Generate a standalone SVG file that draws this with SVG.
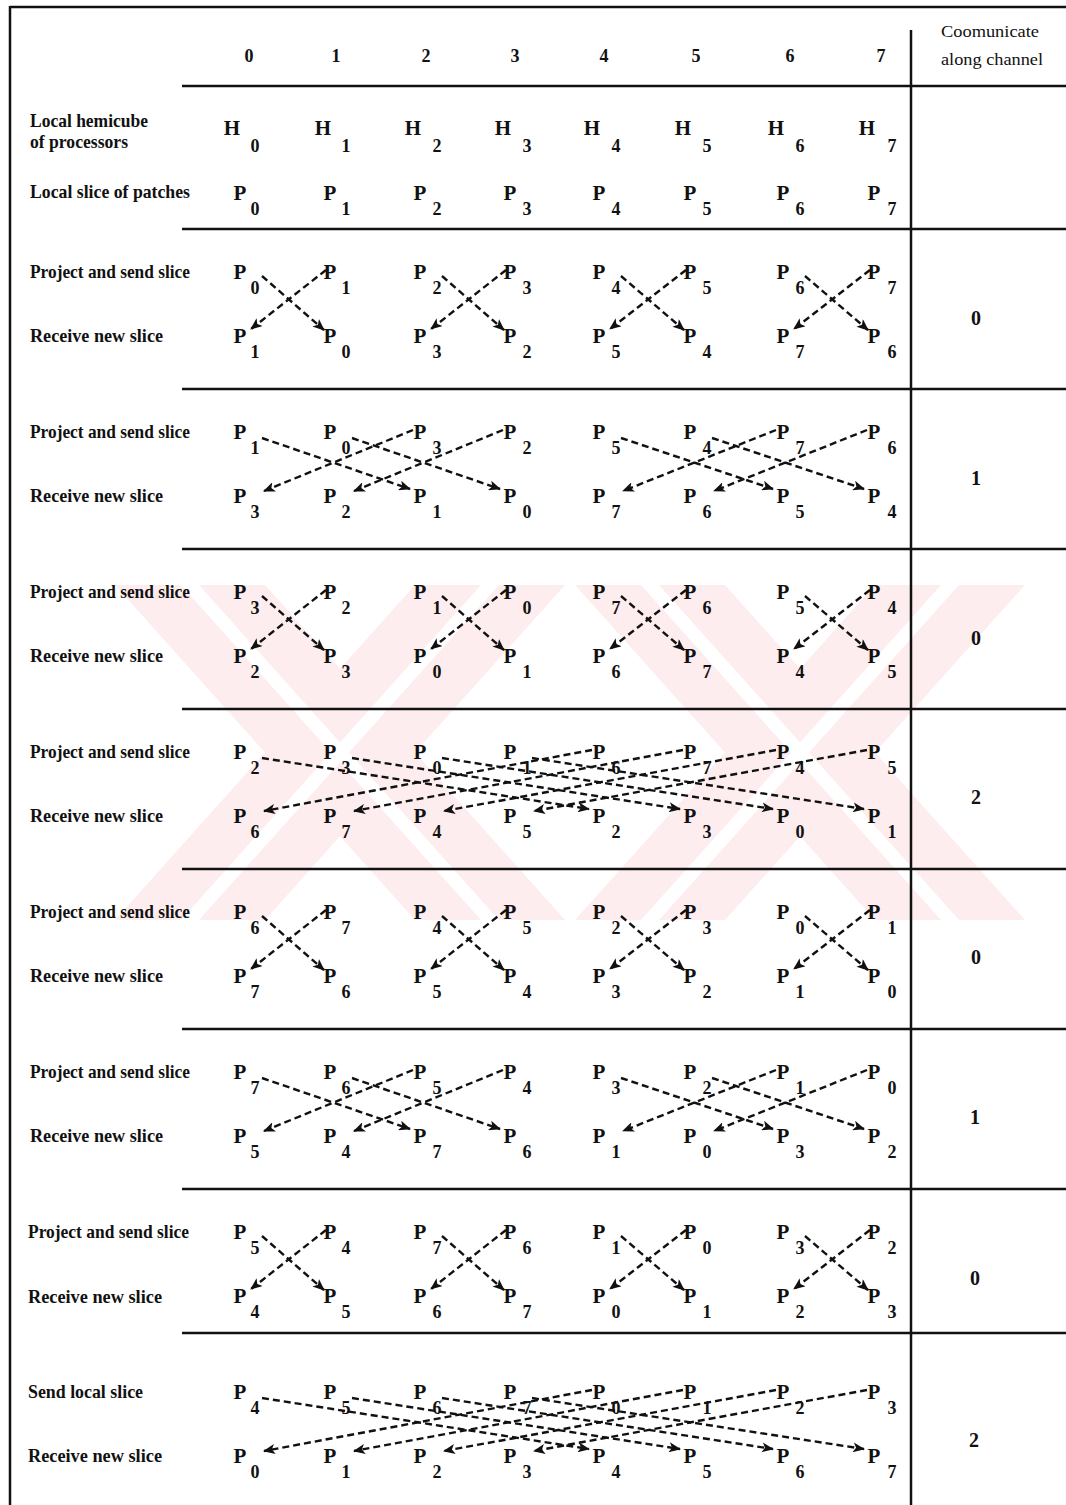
<svg xmlns="http://www.w3.org/2000/svg" width="1066" height="1505" viewBox="0 0 1066 1505">
<defs>
<marker id="ah" markerUnits="userSpaceOnUse" markerWidth="12" markerHeight="10" refX="11" refY="5" orient="auto"><path d="M0,0 L12,5 L0,10 L3,5 Z" fill="#111"/></marker>
<style>
text { font-family: "Liberation Serif","Times New Roman",serif; fill:#111; }
.lbl { font-size:19px; font-weight:bold; }
.hdr { font-size:16px; }
.num { font-size:18px; font-weight:bold; text-anchor:middle; }
.p { font-size:21px; font-weight:bold; text-anchor:middle; }
.s { font-size:18px; font-weight:bold; text-anchor:middle; }
.ch { font-size:20px; font-weight:bold; text-anchor:middle; }
.rule { stroke:#111; stroke-width:2.5; fill:none; }
.arr { stroke:#111; stroke-width:2.4; stroke-dasharray:7 4; fill:none; marker-end:url(#ah); }
.wm { fill:#feedef; }
.wmg { fill:#ffffff; }
</style>
</defs>
<rect width="1066" height="1505" fill="#ffffff"/>
<g id="watermark">
<polygon class="wm" points="115,585 265,585 565,920 415,920"/>
<polygon class="wm" points="415,585 565,585 265,920 115,920"/>
<polygon class="wm" points="575,585 725,585 1025,920 875,920"/>
<polygon class="wm" points="875,585 1025,585 725,920 575,920"/>
<polygon class="wmg" points="181,585 199,585 499,920 481,920"/>
<polygon class="wmg" points="481,585 499,585 199,920 181,920"/>
<polygon class="wmg" points="641,585 659,585 959,920 941,920"/>
<polygon class="wmg" points="941,585 959,585 659,920 641,920"/>
</g>
<g id="rules">
<line class="rule" x1="10" y1="7" x2="1066" y2="7" stroke-width="2"/>
<line class="rule" x1="10" y1="6" x2="10" y2="1505" stroke-width="2"/>
<line class="rule" x1="911" y1="30" x2="911" y2="1505" stroke-width="2"/>
<line class="rule" x1="182" y1="86" x2="1066" y2="86"/>
<line class="rule" x1="182" y1="229" x2="1066" y2="229"/>
<line class="rule" x1="182" y1="389" x2="1066" y2="389"/>
<line class="rule" x1="182" y1="549" x2="1066" y2="549"/>
<line class="rule" x1="182" y1="709" x2="1066" y2="709"/>
<line class="rule" x1="182" y1="869" x2="1066" y2="869"/>
<line class="rule" x1="182" y1="1029" x2="1066" y2="1029"/>
<line class="rule" x1="182" y1="1189" x2="1066" y2="1189"/>
<line class="rule" x1="182" y1="1333" x2="1066" y2="1333"/>
</g>
<g id="labels">
<text class="hdr" x="990" y="37" text-anchor="middle" textLength="98" lengthAdjust="spacingAndGlyphs">Coomunicate</text>
<text class="hdr" x="992" y="65" text-anchor="middle" textLength="102" lengthAdjust="spacingAndGlyphs">along channel</text>
<text class="lbl" x="30" y="127" textLength="118" lengthAdjust="spacingAndGlyphs">Local hemicube</text>
<text class="lbl" x="30" y="148" textLength="98" lengthAdjust="spacingAndGlyphs">of processors</text>
<text class="lbl" x="30" y="198" textLength="160" lengthAdjust="spacingAndGlyphs">Local slice of patches</text>
<text class="lbl" x="30" y="278" textLength="160" lengthAdjust="spacingAndGlyphs">Project and send slice</text>
<text class="lbl" x="30" y="342" textLength="133" lengthAdjust="spacingAndGlyphs">Receive new slice</text>
<text class="lbl" x="30" y="438" textLength="160" lengthAdjust="spacingAndGlyphs">Project and send slice</text>
<text class="lbl" x="30" y="502" textLength="133" lengthAdjust="spacingAndGlyphs">Receive new slice</text>
<text class="lbl" x="30" y="598" textLength="160" lengthAdjust="spacingAndGlyphs">Project and send slice</text>
<text class="lbl" x="30" y="662" textLength="133" lengthAdjust="spacingAndGlyphs">Receive new slice</text>
<text class="lbl" x="30" y="758" textLength="160" lengthAdjust="spacingAndGlyphs">Project and send slice</text>
<text class="lbl" x="30" y="822" textLength="133" lengthAdjust="spacingAndGlyphs">Receive new slice</text>
<text class="lbl" x="30" y="918" textLength="160" lengthAdjust="spacingAndGlyphs">Project and send slice</text>
<text class="lbl" x="30" y="982" textLength="133" lengthAdjust="spacingAndGlyphs">Receive new slice</text>
<text class="lbl" x="30" y="1078" textLength="160" lengthAdjust="spacingAndGlyphs">Project and send slice</text>
<text class="lbl" x="30" y="1142" textLength="133" lengthAdjust="spacingAndGlyphs">Receive new slice</text>
<text class="lbl" x="28" y="1238" textLength="161" lengthAdjust="spacingAndGlyphs">Project and send slice</text>
<text class="lbl" x="28" y="1303" textLength="134" lengthAdjust="spacingAndGlyphs">Receive new slice</text>
<text class="lbl" x="28" y="1398" textLength="115" lengthAdjust="spacingAndGlyphs">Send local slice</text>
<text class="lbl" x="28" y="1462" textLength="134" lengthAdjust="spacingAndGlyphs">Receive new slice</text>
</g>
<g id="channels">
<text class="ch" x="976" y="325">0</text>
<text class="ch" x="976" y="485">1</text>
<text class="ch" x="976" y="645">0</text>
<text class="ch" x="976" y="804">2</text>
<text class="ch" x="976" y="964">0</text>
<text class="ch" x="975" y="1124">1</text>
<text class="ch" x="975" y="1285">0</text>
<text class="ch" x="974" y="1447">2</text>
</g>
<g id="column-headers">
<text class="num" x="249" y="62">0</text>
<text class="num" x="336" y="62">1</text>
<text class="num" x="426" y="62">2</text>
<text class="num" x="515" y="62">3</text>
<text class="num" x="604" y="62">4</text>
<text class="num" x="696" y="62">5</text>
<text class="num" x="790" y="62">6</text>
<text class="num" x="881" y="62">7</text>
</g>
<g id="connectors">
<g id="c1" transform="translate(0,272)">
<line class="arr" x1="262" y1="4" x2="324" y2="58"/><line class="arr" x1="326" y1="-2" x2="251" y2="57"/>
<line class="arr" x1="442" y1="4" x2="504" y2="58"/><line class="arr" x1="506" y1="-2" x2="431" y2="57"/>
<line class="arr" x1="621" y1="4" x2="684" y2="58"/><line class="arr" x1="686" y1="-2" x2="610" y2="57"/>
<line class="arr" x1="805" y1="4" x2="868" y2="58"/><line class="arr" x1="870" y1="-2" x2="794" y2="57"/>
</g>
<g id="c2" transform="translate(0,432)">
<line class="arr" x1="262" y1="6" x2="410" y2="57"/><line class="arr" x1="413" y1="-2" x2="264" y2="59"/>
<line class="arr" x1="352" y1="6" x2="500" y2="57"/><line class="arr" x1="503" y1="-2" x2="354" y2="59"/>
<line class="arr" x1="621" y1="6" x2="773" y2="57"/><line class="arr" x1="776" y1="-2" x2="623" y2="59"/>
<line class="arr" x1="712" y1="6" x2="864" y2="57"/><line class="arr" x1="867" y1="-2" x2="714" y2="59"/>
</g>
<g id="c3" transform="translate(0,592)">
<line class="arr" x1="262" y1="4" x2="324" y2="58"/><line class="arr" x1="326" y1="-2" x2="251" y2="57"/>
<line class="arr" x1="442" y1="4" x2="504" y2="58"/><line class="arr" x1="506" y1="-2" x2="431" y2="57"/>
<line class="arr" x1="621" y1="4" x2="684" y2="58"/><line class="arr" x1="686" y1="-2" x2="610" y2="57"/>
<line class="arr" x1="805" y1="4" x2="868" y2="58"/><line class="arr" x1="870" y1="-2" x2="794" y2="57"/>
</g>
<g id="c4" transform="translate(0,752)">
<line class="arr" x1="262" y1="6" x2="589" y2="57"/><line class="arr" x1="592" y1="-2" x2="264" y2="59"/>
<line class="arr" x1="352" y1="6" x2="680" y2="57"/><line class="arr" x1="683" y1="-2" x2="354" y2="59"/>
<line class="arr" x1="442" y1="6" x2="773" y2="57"/><line class="arr" x1="776" y1="-2" x2="444" y2="59"/>
<line class="arr" x1="532" y1="6" x2="864" y2="57"/><line class="arr" x1="867" y1="-2" x2="534" y2="59"/>
</g>
<g id="c5" transform="translate(0,912)">
<line class="arr" x1="262" y1="4" x2="324" y2="58"/><line class="arr" x1="326" y1="-2" x2="251" y2="57"/>
<line class="arr" x1="442" y1="4" x2="504" y2="58"/><line class="arr" x1="506" y1="-2" x2="431" y2="57"/>
<line class="arr" x1="621" y1="4" x2="684" y2="58"/><line class="arr" x1="686" y1="-2" x2="610" y2="57"/>
<line class="arr" x1="805" y1="4" x2="868" y2="58"/><line class="arr" x1="870" y1="-2" x2="794" y2="57"/>
</g>
<g id="c6" transform="translate(0,1072)">
<line class="arr" x1="262" y1="6" x2="410" y2="57"/><line class="arr" x1="413" y1="-2" x2="264" y2="59"/>
<line class="arr" x1="352" y1="6" x2="500" y2="57"/><line class="arr" x1="503" y1="-2" x2="354" y2="59"/>
<line class="arr" x1="621" y1="6" x2="773" y2="57"/><line class="arr" x1="776" y1="-2" x2="623" y2="59"/>
<line class="arr" x1="712" y1="6" x2="864" y2="57"/><line class="arr" x1="867" y1="-2" x2="714" y2="59"/>
</g>
<g id="c7" transform="translate(0,1232)">
<line class="arr" x1="262" y1="4" x2="324" y2="58"/><line class="arr" x1="326" y1="-2" x2="251" y2="57"/>
<line class="arr" x1="442" y1="4" x2="504" y2="58"/><line class="arr" x1="506" y1="-2" x2="431" y2="57"/>
<line class="arr" x1="621" y1="4" x2="684" y2="58"/><line class="arr" x1="686" y1="-2" x2="610" y2="57"/>
<line class="arr" x1="805" y1="4" x2="868" y2="58"/><line class="arr" x1="870" y1="-2" x2="794" y2="57"/>
</g>
<g id="c8" transform="translate(0,1392)">
<line class="arr" x1="262" y1="6" x2="589" y2="57"/><line class="arr" x1="592" y1="-2" x2="264" y2="59"/>
<line class="arr" x1="352" y1="6" x2="680" y2="57"/><line class="arr" x1="683" y1="-2" x2="354" y2="59"/>
<line class="arr" x1="442" y1="6" x2="773" y2="57"/><line class="arr" x1="776" y1="-2" x2="444" y2="59"/>
<line class="arr" x1="532" y1="6" x2="864" y2="57"/><line class="arr" x1="867" y1="-2" x2="534" y2="59"/>
</g>
</g>
<g id="hemicubes">
<g id="h0"><text class="p" x="232" y="135">H</text><text class="s" x="255" y="152">0</text></g>
<g id="h1"><text class="p" x="323" y="135">H</text><text class="s" x="346" y="152">1</text></g>
<g id="h2"><text class="p" x="413" y="135">H</text><text class="s" x="437" y="152">2</text></g>
<g id="h3"><text class="p" x="503" y="135">H</text><text class="s" x="527" y="152">3</text></g>
<g id="h4"><text class="p" x="592" y="135">H</text><text class="s" x="616" y="152">4</text></g>
<g id="h5"><text class="p" x="683" y="135">H</text><text class="s" x="707" y="152">5</text></g>
<g id="h6"><text class="p" x="776" y="135">H</text><text class="s" x="800" y="152">6</text></g>
<g id="h7"><text class="p" x="867" y="135">H</text><text class="s" x="892" y="152">7</text></g>
</g>
<g id="local-slices">
<g id="l0"><text class="p" x="240" y="200">P</text><text class="s" x="255" y="215">0</text></g>
<g id="l1"><text class="p" x="330" y="200">P</text><text class="s" x="346" y="215">1</text></g>
<g id="l2"><text class="p" x="420" y="200">P</text><text class="s" x="437" y="215">2</text></g>
<g id="l3"><text class="p" x="510" y="200">P</text><text class="s" x="527" y="215">3</text></g>
<g id="l4"><text class="p" x="599" y="200">P</text><text class="s" x="616" y="215">4</text></g>
<g id="l5"><text class="p" x="690" y="200">P</text><text class="s" x="707" y="215">5</text></g>
<g id="l6"><text class="p" x="783" y="200">P</text><text class="s" x="800" y="215">6</text></g>
<g id="l7"><text class="p" x="874" y="200">P</text><text class="s" x="892" y="215">7</text></g>
</g>
<g id="step1" transform="translate(0,272)">
<g id="s1t0"><text class="p" x="240" y="7">P</text><text class="s" x="255" y="22">0</text></g>
<g id="s1t1"><text class="p" x="330" y="7">P</text><text class="s" x="346" y="22">1</text></g>
<g id="s1t2"><text class="p" x="420" y="7">P</text><text class="s" x="437" y="22">2</text></g>
<g id="s1t3"><text class="p" x="510" y="7">P</text><text class="s" x="527" y="22">3</text></g>
<g id="s1t4"><text class="p" x="599" y="7">P</text><text class="s" x="616" y="22">4</text></g>
<g id="s1t5"><text class="p" x="690" y="7">P</text><text class="s" x="707" y="22">5</text></g>
<g id="s1t6"><text class="p" x="783" y="7">P</text><text class="s" x="800" y="22">6</text></g>
<g id="s1t7"><text class="p" x="874" y="7">P</text><text class="s" x="892" y="22">7</text></g>
<g id="s1b0"><text class="p" x="240" y="71">P</text><text class="s" x="255" y="86">1</text></g>
<g id="s1b1"><text class="p" x="330" y="71">P</text><text class="s" x="346" y="86">0</text></g>
<g id="s1b2"><text class="p" x="420" y="71">P</text><text class="s" x="437" y="86">3</text></g>
<g id="s1b3"><text class="p" x="510" y="71">P</text><text class="s" x="527" y="86">2</text></g>
<g id="s1b4"><text class="p" x="599" y="71">P</text><text class="s" x="616" y="86">5</text></g>
<g id="s1b5"><text class="p" x="690" y="71">P</text><text class="s" x="707" y="86">4</text></g>
<g id="s1b6"><text class="p" x="783" y="71">P</text><text class="s" x="800" y="86">7</text></g>
<g id="s1b7"><text class="p" x="874" y="71">P</text><text class="s" x="892" y="86">6</text></g>
</g>
<g id="step2" transform="translate(0,432)">
<g id="s2t0"><text class="p" x="240" y="7">P</text><text class="s" x="255" y="22">1</text></g>
<g id="s2t1"><text class="p" x="330" y="7">P</text><text class="s" x="346" y="22">0</text></g>
<g id="s2t2"><text class="p" x="420" y="7">P</text><text class="s" x="437" y="22">3</text></g>
<g id="s2t3"><text class="p" x="510" y="7">P</text><text class="s" x="527" y="22">2</text></g>
<g id="s2t4"><text class="p" x="599" y="7">P</text><text class="s" x="616" y="22">5</text></g>
<g id="s2t5"><text class="p" x="690" y="7">P</text><text class="s" x="707" y="22">4</text></g>
<g id="s2t6"><text class="p" x="783" y="7">P</text><text class="s" x="800" y="22">7</text></g>
<g id="s2t7"><text class="p" x="874" y="7">P</text><text class="s" x="892" y="22">6</text></g>
<g id="s2b0"><text class="p" x="240" y="71">P</text><text class="s" x="255" y="86">3</text></g>
<g id="s2b1"><text class="p" x="330" y="71">P</text><text class="s" x="346" y="86">2</text></g>
<g id="s2b2"><text class="p" x="420" y="71">P</text><text class="s" x="437" y="86">1</text></g>
<g id="s2b3"><text class="p" x="510" y="71">P</text><text class="s" x="527" y="86">0</text></g>
<g id="s2b4"><text class="p" x="599" y="71">P</text><text class="s" x="616" y="86">7</text></g>
<g id="s2b5"><text class="p" x="690" y="71">P</text><text class="s" x="707" y="86">6</text></g>
<g id="s2b6"><text class="p" x="783" y="71">P</text><text class="s" x="800" y="86">5</text></g>
<g id="s2b7"><text class="p" x="874" y="71">P</text><text class="s" x="892" y="86">4</text></g>
</g>
<g id="step3" transform="translate(0,592)">
<g id="s3t0"><text class="p" x="240" y="7">P</text><text class="s" x="255" y="22">3</text></g>
<g id="s3t1"><text class="p" x="330" y="7">P</text><text class="s" x="346" y="22">2</text></g>
<g id="s3t2"><text class="p" x="420" y="7">P</text><text class="s" x="437" y="22">1</text></g>
<g id="s3t3"><text class="p" x="510" y="7">P</text><text class="s" x="527" y="22">0</text></g>
<g id="s3t4"><text class="p" x="599" y="7">P</text><text class="s" x="616" y="22">7</text></g>
<g id="s3t5"><text class="p" x="690" y="7">P</text><text class="s" x="707" y="22">6</text></g>
<g id="s3t6"><text class="p" x="783" y="7">P</text><text class="s" x="800" y="22">5</text></g>
<g id="s3t7"><text class="p" x="874" y="7">P</text><text class="s" x="892" y="22">4</text></g>
<g id="s3b0"><text class="p" x="240" y="71">P</text><text class="s" x="255" y="86">2</text></g>
<g id="s3b1"><text class="p" x="330" y="71">P</text><text class="s" x="346" y="86">3</text></g>
<g id="s3b2"><text class="p" x="420" y="71">P</text><text class="s" x="437" y="86">0</text></g>
<g id="s3b3"><text class="p" x="510" y="71">P</text><text class="s" x="527" y="86">1</text></g>
<g id="s3b4"><text class="p" x="599" y="71">P</text><text class="s" x="616" y="86">6</text></g>
<g id="s3b5"><text class="p" x="690" y="71">P</text><text class="s" x="707" y="86">7</text></g>
<g id="s3b6"><text class="p" x="783" y="71">P</text><text class="s" x="800" y="86">4</text></g>
<g id="s3b7"><text class="p" x="874" y="71">P</text><text class="s" x="892" y="86">5</text></g>
</g>
<g id="step4" transform="translate(0,752)">
<g id="s4t0"><text class="p" x="240" y="7">P</text><text class="s" x="255" y="22">2</text></g>
<g id="s4t1"><text class="p" x="330" y="7">P</text><text class="s" x="346" y="22">3</text></g>
<g id="s4t2"><text class="p" x="420" y="7">P</text><text class="s" x="437" y="22">0</text></g>
<g id="s4t3"><text class="p" x="510" y="7">P</text><text class="s" x="527" y="22">1</text></g>
<g id="s4t4"><text class="p" x="599" y="7">P</text><text class="s" x="616" y="22">6</text></g>
<g id="s4t5"><text class="p" x="690" y="7">P</text><text class="s" x="707" y="22">7</text></g>
<g id="s4t6"><text class="p" x="783" y="7">P</text><text class="s" x="800" y="22">4</text></g>
<g id="s4t7"><text class="p" x="874" y="7">P</text><text class="s" x="892" y="22">5</text></g>
<g id="s4b0"><text class="p" x="240" y="71">P</text><text class="s" x="255" y="86">6</text></g>
<g id="s4b1"><text class="p" x="330" y="71">P</text><text class="s" x="346" y="86">7</text></g>
<g id="s4b2"><text class="p" x="420" y="71">P</text><text class="s" x="437" y="86">4</text></g>
<g id="s4b3"><text class="p" x="510" y="71">P</text><text class="s" x="527" y="86">5</text></g>
<g id="s4b4"><text class="p" x="599" y="71">P</text><text class="s" x="616" y="86">2</text></g>
<g id="s4b5"><text class="p" x="690" y="71">P</text><text class="s" x="707" y="86">3</text></g>
<g id="s4b6"><text class="p" x="783" y="71">P</text><text class="s" x="800" y="86">0</text></g>
<g id="s4b7"><text class="p" x="874" y="71">P</text><text class="s" x="892" y="86">1</text></g>
</g>
<g id="step5" transform="translate(0,912)">
<g id="s5t0"><text class="p" x="240" y="7">P</text><text class="s" x="255" y="22">6</text></g>
<g id="s5t1"><text class="p" x="330" y="7">P</text><text class="s" x="346" y="22">7</text></g>
<g id="s5t2"><text class="p" x="420" y="7">P</text><text class="s" x="437" y="22">4</text></g>
<g id="s5t3"><text class="p" x="510" y="7">P</text><text class="s" x="527" y="22">5</text></g>
<g id="s5t4"><text class="p" x="599" y="7">P</text><text class="s" x="616" y="22">2</text></g>
<g id="s5t5"><text class="p" x="690" y="7">P</text><text class="s" x="707" y="22">3</text></g>
<g id="s5t6"><text class="p" x="783" y="7">P</text><text class="s" x="800" y="22">0</text></g>
<g id="s5t7"><text class="p" x="874" y="7">P</text><text class="s" x="892" y="22">1</text></g>
<g id="s5b0"><text class="p" x="240" y="71">P</text><text class="s" x="255" y="86">7</text></g>
<g id="s5b1"><text class="p" x="330" y="71">P</text><text class="s" x="346" y="86">6</text></g>
<g id="s5b2"><text class="p" x="420" y="71">P</text><text class="s" x="437" y="86">5</text></g>
<g id="s5b3"><text class="p" x="510" y="71">P</text><text class="s" x="527" y="86">4</text></g>
<g id="s5b4"><text class="p" x="599" y="71">P</text><text class="s" x="616" y="86">3</text></g>
<g id="s5b5"><text class="p" x="690" y="71">P</text><text class="s" x="707" y="86">2</text></g>
<g id="s5b6"><text class="p" x="783" y="71">P</text><text class="s" x="800" y="86">1</text></g>
<g id="s5b7"><text class="p" x="874" y="71">P</text><text class="s" x="892" y="86">0</text></g>
</g>
<g id="step6" transform="translate(0,1072)">
<g id="s6t0"><text class="p" x="240" y="7">P</text><text class="s" x="255" y="22">7</text></g>
<g id="s6t1"><text class="p" x="330" y="7">P</text><text class="s" x="346" y="22">6</text></g>
<g id="s6t2"><text class="p" x="420" y="7">P</text><text class="s" x="437" y="22">5</text></g>
<g id="s6t3"><text class="p" x="510" y="7">P</text><text class="s" x="527" y="22">4</text></g>
<g id="s6t4"><text class="p" x="599" y="7">P</text><text class="s" x="616" y="22">3</text></g>
<g id="s6t5"><text class="p" x="690" y="7">P</text><text class="s" x="707" y="22">2</text></g>
<g id="s6t6"><text class="p" x="783" y="7">P</text><text class="s" x="800" y="22">1</text></g>
<g id="s6t7"><text class="p" x="874" y="7">P</text><text class="s" x="892" y="22">0</text></g>
<g id="s6b0"><text class="p" x="240" y="71">P</text><text class="s" x="255" y="86">5</text></g>
<g id="s6b1"><text class="p" x="330" y="71">P</text><text class="s" x="346" y="86">4</text></g>
<g id="s6b2"><text class="p" x="420" y="71">P</text><text class="s" x="437" y="86">7</text></g>
<g id="s6b3"><text class="p" x="510" y="71">P</text><text class="s" x="527" y="86">6</text></g>
<g id="s6b4"><text class="p" x="599" y="71">P</text><text class="s" x="616" y="86">1</text></g>
<g id="s6b5"><text class="p" x="690" y="71">P</text><text class="s" x="707" y="86">0</text></g>
<g id="s6b6"><text class="p" x="783" y="71">P</text><text class="s" x="800" y="86">3</text></g>
<g id="s6b7"><text class="p" x="874" y="71">P</text><text class="s" x="892" y="86">2</text></g>
</g>
<g id="step7" transform="translate(0,1232)">
<g id="s7t0"><text class="p" x="240" y="7">P</text><text class="s" x="255" y="22">5</text></g>
<g id="s7t1"><text class="p" x="330" y="7">P</text><text class="s" x="346" y="22">4</text></g>
<g id="s7t2"><text class="p" x="420" y="7">P</text><text class="s" x="437" y="22">7</text></g>
<g id="s7t3"><text class="p" x="510" y="7">P</text><text class="s" x="527" y="22">6</text></g>
<g id="s7t4"><text class="p" x="599" y="7">P</text><text class="s" x="616" y="22">1</text></g>
<g id="s7t5"><text class="p" x="690" y="7">P</text><text class="s" x="707" y="22">0</text></g>
<g id="s7t6"><text class="p" x="783" y="7">P</text><text class="s" x="800" y="22">3</text></g>
<g id="s7t7"><text class="p" x="874" y="7">P</text><text class="s" x="892" y="22">2</text></g>
<g id="s7b0"><text class="p" x="240" y="71">P</text><text class="s" x="255" y="86">4</text></g>
<g id="s7b1"><text class="p" x="330" y="71">P</text><text class="s" x="346" y="86">5</text></g>
<g id="s7b2"><text class="p" x="420" y="71">P</text><text class="s" x="437" y="86">6</text></g>
<g id="s7b3"><text class="p" x="510" y="71">P</text><text class="s" x="527" y="86">7</text></g>
<g id="s7b4"><text class="p" x="599" y="71">P</text><text class="s" x="616" y="86">0</text></g>
<g id="s7b5"><text class="p" x="690" y="71">P</text><text class="s" x="707" y="86">1</text></g>
<g id="s7b6"><text class="p" x="783" y="71">P</text><text class="s" x="800" y="86">2</text></g>
<g id="s7b7"><text class="p" x="874" y="71">P</text><text class="s" x="892" y="86">3</text></g>
</g>
<g id="step8" transform="translate(0,1392)">
<g id="s8t0"><text class="p" x="240" y="7">P</text><text class="s" x="255" y="22">4</text></g>
<g id="s8t1"><text class="p" x="330" y="7">P</text><text class="s" x="346" y="22">5</text></g>
<g id="s8t2"><text class="p" x="420" y="7">P</text><text class="s" x="437" y="22">6</text></g>
<g id="s8t3"><text class="p" x="510" y="7">P</text><text class="s" x="527" y="22">7</text></g>
<g id="s8t4"><text class="p" x="599" y="7">P</text><text class="s" x="616" y="22">0</text></g>
<g id="s8t5"><text class="p" x="690" y="7">P</text><text class="s" x="707" y="22">1</text></g>
<g id="s8t6"><text class="p" x="783" y="7">P</text><text class="s" x="800" y="22">2</text></g>
<g id="s8t7"><text class="p" x="874" y="7">P</text><text class="s" x="892" y="22">3</text></g>
<g id="s8b0"><text class="p" x="240" y="71">P</text><text class="s" x="255" y="86">0</text></g>
<g id="s8b1"><text class="p" x="330" y="71">P</text><text class="s" x="346" y="86">1</text></g>
<g id="s8b2"><text class="p" x="420" y="71">P</text><text class="s" x="437" y="86">2</text></g>
<g id="s8b3"><text class="p" x="510" y="71">P</text><text class="s" x="527" y="86">3</text></g>
<g id="s8b4"><text class="p" x="599" y="71">P</text><text class="s" x="616" y="86">4</text></g>
<g id="s8b5"><text class="p" x="690" y="71">P</text><text class="s" x="707" y="86">5</text></g>
<g id="s8b6"><text class="p" x="783" y="71">P</text><text class="s" x="800" y="86">6</text></g>
<g id="s8b7"><text class="p" x="874" y="71">P</text><text class="s" x="892" y="86">7</text></g>
</g>
</svg>
